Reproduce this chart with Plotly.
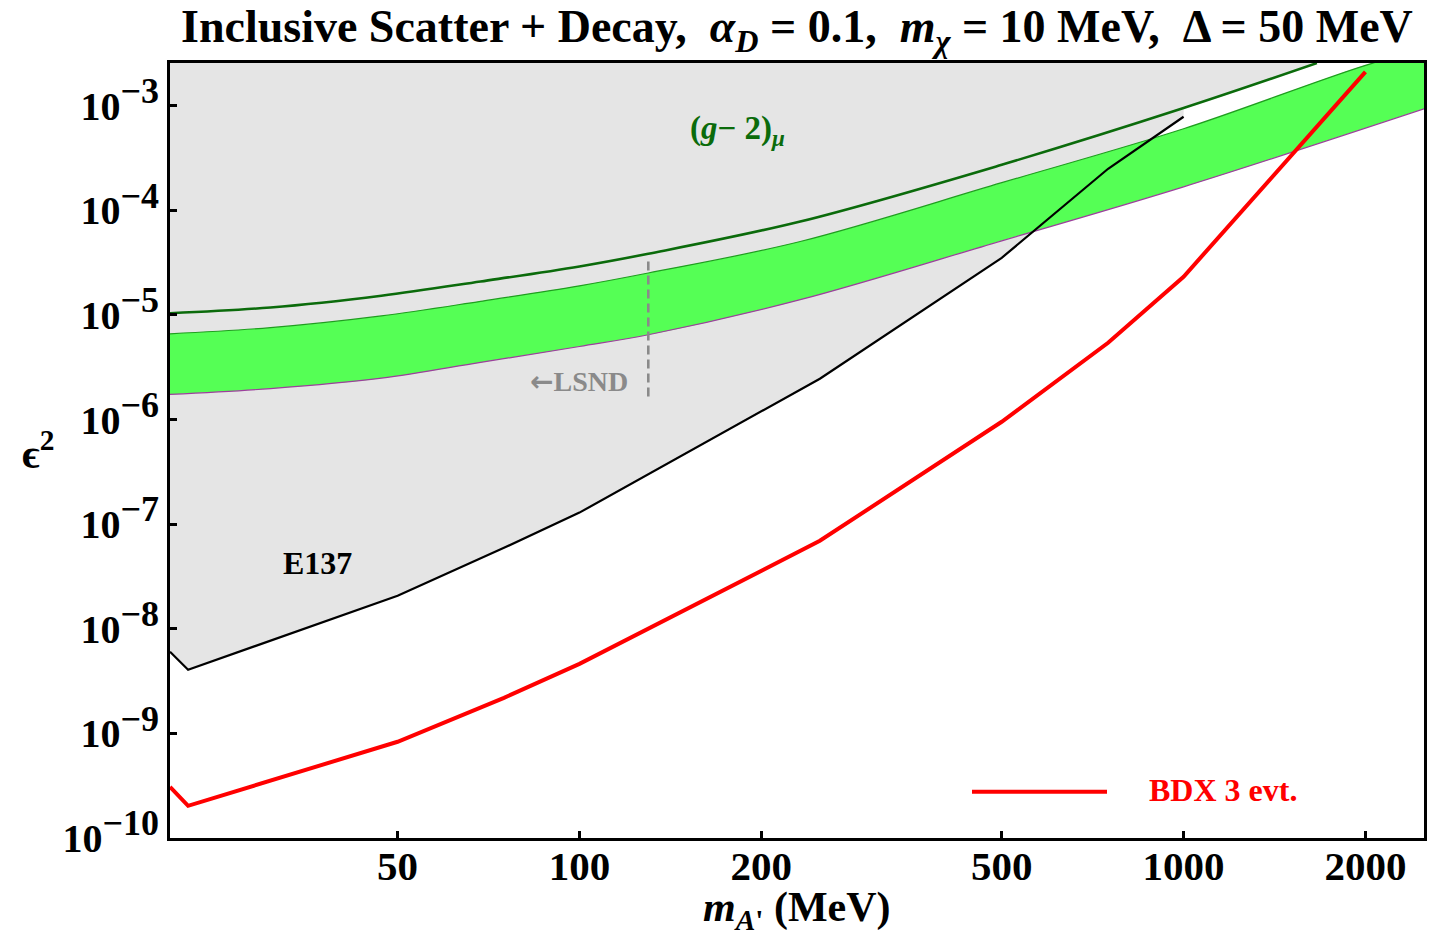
import numpy as np
import plotly.graph_objects as go

# ---- data (m_A' in MeV, epsilon^2) ----
# E137 beam-dump exclusion boundary
e137_mass = [21, 22.5, 50, 75, 100, 250, 500, 750, 1000]
e137_eps2 = [6.03e-9, 4.06e-9, 2.07e-8, 5.94e-8, 1.29e-7, 2.46e-6, 3.52e-5, 2.5e-4, 7.85e-4]

# BDX 3-event reach
bdx_mass = [21, 22.5, 50, 75, 100, 250, 500, 750, 1000, 2000]
bdx_eps2 = [3.08e-10, 2.03e-10, 8.32e-10, 2.19e-9, 4.62e-9, 6.94e-8, 9.53e-7, 5.42e-6, 2.32e-5, 2.11e-3]

# (g-2)_mu exclusion curve
gm2_mass = [21, 30.8, 47, 68.6, 100, 130, 232, 500, 1000, 1662]
gm2_eps2 = [1.04e-5, 1.18e-5, 1.53e-5, 2.09e-5, 2.91e-5, 3.85e-5, 7.83e-5, 2.73e-4, 9.51e-4, 2.56e-3]

# (g-2)_mu favoured band, upper and lower edges
band_hi_mass = [21, 30.8, 47, 68.6, 100, 130, 232, 500, 1000, 2057, 2500]
band_hi_eps2 = [6.61e-6, 7.57e-6, 9.80e-6, 1.35e-5, 1.90e-5, 2.52e-5, 5.04e-5, 1.84e-4, 6.03e-4,
                2.56e-3, 3.36e-3]
band_lo_mass = [21, 30.8, 47, 68.6, 100, 130, 232, 500, 1000, 2500]
band_lo_eps2 = [1.74e-6, 1.98e-6, 2.49e-6, 3.52e-6, 5.00e-6, 6.47e-6, 1.40e-5, 5.12e-5, 1.68e-4,
                9.35e-4]

# LSND edge
lsnd_mass = [130, 130]
lsnd_eps2 = [3.24e-5, 1.55e-6]

# axes
x_range = [21, 2500]
y_range = [1e-10, 10 ** -2.591]
x_tickvals = [50, 100, 200, 500, 1000, 2000]
y_exponents = [-3, -4, -5, -6, -7, -8, -9, -10]

FONT = "Liberation Serif, Times New Roman, serif"
GRAY = "#e5e5e5"
BAND = "#55ff55"
DKGREEN = "#0b6b0b"

fig = go.Figure()

# excluded region: above E137 boundary and above the (g-2) curve
gm2_tail = [(m, e) for m, e in zip(gm2_mass, gm2_eps2) if m >= 1000]
gray_x = e137_mass + [m for m, _ in gm2_tail] + [gm2_tail[-1][0], e137_mass[0]]
gray_y = e137_eps2 + [e for _, e in gm2_tail] + [1e-2, 1e-2]
fig.add_trace(go.Scatter(x=gray_x, y=gray_y, fill="toself", fillcolor=GRAY,
                         mode="lines", line=dict(width=0), hoverinfo="skip"))

# favoured band
fig.add_trace(go.Scatter(x=band_lo_mass, y=band_lo_eps2, mode="lines",
                         line=dict(width=0, shape="spline"), hoverinfo="skip"))
fig.add_trace(go.Scatter(x=band_hi_mass, y=band_hi_eps2, mode="lines", fill="tonexty",
                         fillcolor=BAND, line=dict(color="#1f9e1f", width=1.2, shape="spline"),
                         hoverinfo="skip"))
fig.add_trace(go.Scatter(x=band_lo_mass, y=band_lo_eps2, mode="lines",
                         line=dict(color="#9c3f9c", width=1.2, shape="spline"), hoverinfo="skip"))

# (g-2) exclusion line
fig.add_trace(go.Scatter(x=gm2_mass, y=gm2_eps2, mode="lines",
                         line=dict(color=DKGREEN, width=2.6, shape="spline"), hoverinfo="skip"))

# E137 boundary
fig.add_trace(go.Scatter(x=e137_mass, y=e137_eps2, mode="lines",
                         line=dict(color="black", width=2.2), hoverinfo="skip"))

# LSND edge
fig.add_trace(go.Scatter(x=lsnd_mass, y=lsnd_eps2, mode="lines",
                         line=dict(color="#8a8a8a", width=2.6, dash="9px,5px"), hoverinfo="skip"))

# BDX reach
fig.add_trace(go.Scatter(x=bdx_mass, y=bdx_eps2, mode="lines",
                         line=dict(color="#ff0000", width=4), hoverinfo="skip"))

x0, x1 = np.log10(x_range)
y0, y1 = np.log10(y_range)

fig.update_xaxes(type="log", range=[x0, x1], tickvals=x_tickvals,
                 ticktext=[str(v) for v in x_tickvals],
                 ticks="inside", ticklen=7, tickwidth=2.5, tickcolor="black",
                 showline=True, linewidth=3, linecolor="black", mirror=True,
                 showgrid=False, zeroline=False, ticklabelstandoff=-10,
                 tickfont=dict(family=FONT, size=41, color="black", weight="bold"))
fig.update_yaxes(type="log", range=[y0, y1], tickvals=[10.0 ** p for p in y_exponents],
                 ticktext=["10<sup><span style='font-size:36px'>\u2212%d</span></sup>" % (-p)
                           for p in y_exponents],
                 ticks="inside", ticklen=7, tickwidth=2.5, tickcolor="black",
                 showline=True, linewidth=3, linecolor="black", mirror=True,
                 showgrid=False, zeroline=False,
                 tickfont=dict(family=FONT, size=40, color="black", weight="bold"))

ann = []
# title
ann.append(dict(xref="paper", yref="paper", x=0.5, y=1.043, xanchor="center", yanchor="middle",
                showarrow=False,
                text="<b>Inclusive Scatter + Decay,  <i>\u03b1<sub>D</sub></i> = 0.1,  "
                     "<i>m<sub>\u03c7</sub></i> = 10 MeV,  \u0394 = 50 MeV</b>",
                font=dict(family=FONT, size=46, color="black")))
# axis titles
ann.append(dict(xref="paper", yref="paper", x=0.5, y=-0.093, xanchor="center", yanchor="middle",
                showarrow=False, text="<b><i>m</i><sub><i>A</i>'</sub> (MeV)</b>",
                font=dict(family=FONT, size=42, color="black")))
ann.append(dict(xref="paper", yref="paper", x=-0.105, y=0.50, xanchor="center", yanchor="middle",
                showarrow=False, text="<b>\u03f5<sup>2</sup></b>",
                font=dict(family=FONT, size=42, color="black")))
# region labels
ann.append(dict(xref="x", yref="y", x=np.log10(36.9), y=-7.369, showarrow=False,
                text="<b>E137</b>", font=dict(family=FONT, size=32, color="black")))
ann.append(dict(xref="x", yref="y", x=2.261, y=-3.239, showarrow=False,
                text="<b>(<i>g</i>\u2212 2)<sub><i>\u03bc</i></sub></b>",
                font=dict(family=FONT, size=33, color=DKGREEN)))
ann.append(dict(xref="x", yref="y", x=2.084, y=-5.639, xanchor="right", showarrow=False,
                text="<b><span style='font-family:DejaVu Sans'>\u2190</span>LSND</b>",
                font=dict(family=FONT, size=28, color="#8a8a8a")))

# legend entry for BDX
L, R, T, B = 170, 1424, 63.3, 838.3
def px(xp):
    return (xp - L) / (R - L)
def py(yp):
    return (B - yp) / (B - T)
fig.add_shape(type="line", xref="paper", yref="paper", x0=px(972), x1=px(1107),
              y0=py(792), y1=py(792), line=dict(color="#ff0000", width=4))
ann.append(dict(xref="paper", yref="paper", x=px(1223), y=py(790), xanchor="center",
                yanchor="middle", showarrow=False, text="<b>BDX 3 evt.</b>",
                font=dict(family=FONT, size=32, color="#ff0000")))

fig.update_layout(width=1449, height=945, showlegend=False,
                  margin=dict(l=170, r=25, t=63, b=107),
                  paper_bgcolor="white", plot_bgcolor="white",
                  annotations=ann)

fig.write_html("out.html")
